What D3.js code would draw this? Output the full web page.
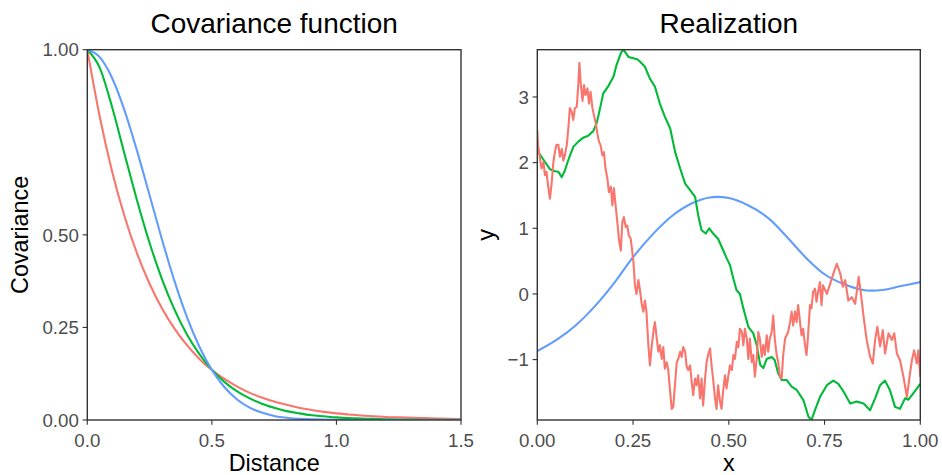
<!DOCTYPE html>
<html>
<head>
<meta charset="utf-8">
<script src="https://cdn.jsdelivr.net/npm/d3@7"></script>
<style>
  html, body { margin: 0; padding: 0; background: #ffffff; }
  svg { display: block; font-family: "Liberation Sans", Arial, Helvetica, sans-serif; }
</style>
</head>
<body>
<svg id="chart" width="942" height="475"></svg>
<script>
// ---- Covariance functions, sampled by distance ----
const distances = [0.00,0.05,0.10,0.15,0.20,0.25,0.30,0.35,0.40,0.45,0.50,0.55,0.60,0.65,0.70,0.75,
  0.80,0.85,0.90,0.95,1.00,1.05,1.10,1.15,1.20,1.25,1.30,1.35,1.40,1.45,1.50];
const covExponential = [1.000,0.819,0.670,0.549,0.449,0.368,0.301,0.247,0.202,0.165,0.135,0.111,0.091,
  0.074,0.061,0.050,0.041,0.033,0.027,0.022,0.018,0.015,0.012,0.010,0.008,0.007,0.006,0.005,0.004,0.003,0.002];
const covMatern = [1.000,0.951,0.844,0.717,0.592,0.478,0.380,0.298,0.231,0.178,0.136,0.103,0.078,
  0.059,0.044,0.033,0.024,0.018,0.013,0.010,0.007,0.005,0.004,0.003,0.002,0.0015,0.001,0.0008,0.0006,0.0004,0.0003];
const covGaussian = [1.000,0.980,0.923,0.835,0.726,0.607,0.487,0.375,0.278,0.198,0.135,0.089,0.056,
  0.034,0.020,0.011,0.006,0.003,0.002,0.001,0.0003,0,0,0,0,0,0,0,0,0,0];

// ---- Realizations ----
const realExpX = [0.000,0.002,0.007,0.011,0.016,0.020,0.024,0.029,0.033,0.037,0.042,0.046,0.050,0.055,0.059,
  0.064,0.068,0.072,0.077,0.081,0.085,0.090,0.094,0.098,0.103,0.107,0.110,0.113,0.118,0.122,0.126,0.131,0.135,
  0.139,0.144,0.148,0.152,0.157,0.161,0.165,0.170,0.174,0.178,0.183,0.187,0.192,0.196,0.200,0.205,0.209,0.213,
  0.218,0.222,0.226,0.231,0.235,0.239,0.244,0.248,0.251,0.255,0.259,0.264,0.268,0.273,0.277,0.281,0.285,0.290,
  0.294,0.299,0.303,0.307,0.312,0.316,0.320,0.325,0.329,0.333,0.338,0.342,0.346,0.351,0.355,0.360,0.364,0.368,
  0.373,0.377,0.381,0.386,0.390,0.394,0.399,0.403,0.407,0.412,0.416,0.420,0.425,0.429,0.433,0.438,0.442,0.446,
  0.451,0.455,0.459,0.464,0.468,0.472,0.477,0.481,0.485,0.490,0.494,0.499,0.503,0.508,0.512,0.516,0.521,0.525,
  0.529,0.534,0.538,0.542,0.547,0.551,0.555,0.560,0.564,0.568,0.573,0.577,0.581,0.586,0.590,0.594,0.599,0.603,
  0.607,0.612,0.616,0.620,0.625,0.629,0.633,0.638,0.642,0.647,0.651,0.655,0.660,0.664,0.668,0.673,0.677,0.681,
  0.686,0.690,0.694,0.699,0.703,0.707,0.712,0.716,0.720,0.725,0.729,0.733,0.738,0.742,0.746,0.756,0.765,0.773,
  0.782,0.791,0.798,0.804,0.812,0.821,0.830,0.839,0.845,0.852,0.860,0.869,0.876,0.882,0.888,0.895,0.902,0.908,
  0.917,0.926,0.932,0.939,0.947,0.956,0.965,0.972,0.978,0.984,0.991,0.995,1.000];
const realExpY = [2.50,2.27,2.06,1.91,2.01,1.81,1.86,1.61,1.45,1.66,2.01,2.16,2.27,2.27,2.09,
  2.21,2.03,2.11,2.27,2.52,2.83,2.77,2.65,2.83,2.85,3.18,3.52,3.23,2.94,3.18,3.03,3.13,2.90,
  3.08,2.83,2.72,2.62,2.44,2.32,2.27,2.11,2.16,1.91,1.76,1.55,1.63,1.35,1.61,1.32,1.09,0.84,
  0.66,1.09,1.17,1.02,1.04,0.89,0.84,0.64,0.49,0.13,0.00,0.21,0.06,-0.17,-0.27,-0.10,-0.27,-0.78,
  -1.09,-0.78,-0.58,-0.43,-0.68,-0.88,-0.78,-0.99,-0.81,-1.14,-1.04,-1.16,-1.44,-1.75,-1.72,-1.34,-1.04,-0.99,
  -0.88,-0.96,-0.81,-0.88,-1.11,-1.16,-1.09,-1.34,-1.54,-1.29,-1.39,-1.24,-1.59,-1.29,-1.70,-1.29,-1.04,-0.93,
  -0.83,-1.09,-1.29,-1.59,-1.75,-1.39,-1.64,-1.75,-1.49,-1.24,-1.44,-1.24,-1.09,-1.16,-0.93,-0.99,-0.73,-0.81,
  -0.53,-0.58,-0.78,-0.53,-0.68,-0.99,-0.68,-1.04,-0.93,-1.26,-0.99,-0.58,-0.68,-0.96,-0.78,-0.93,-0.63,-0.88,
  -0.68,-0.58,-0.33,-0.68,-0.93,-1.04,-1.24,-1.29,-0.93,-0.68,-0.63,-0.58,-0.43,-0.27,-0.48,-0.27,-0.43,-0.17,
  -0.43,-0.63,-0.53,-0.78,-0.93,-0.63,-0.17,-0.22,0.03,0.08,-0.12,0.03,0.18,-0.17,0.13,0.00,0.16,0.31,
  0.46,0.31,0.11,0.21,-0.10,-0.05,-0.15,0.26,0.00,-0.35,-0.70,-0.96,-1.06,-0.70,-0.50,-0.80,-0.55,-0.91,
  -0.60,-0.70,-0.60,-0.91,-1.01,-1.26,-1.57,-1.26,-1.01,-0.86,-1.06,-0.86,-1.26];

const realMatX = [0.000,0.004,0.020,0.033,0.046,0.055,0.064,0.072,0.081,0.094,0.107,0.120,0.133,0.146,0.155,
  0.164,0.172,0.185,0.199,0.207,0.219,0.225,0.238,0.251,0.262,0.268,0.281,0.294,0.307,0.320,0.333,0.347,0.360,
  0.373,0.386,0.399,0.412,0.420,0.429,0.440,0.449,0.459,0.472,0.485,0.494,0.503,0.512,0.520,0.529,0.538,0.551,
  0.564,0.573,0.582,0.590,0.599,0.612,0.620,0.629,0.638,0.651,0.664,0.677,0.695,0.708,0.716,0.725,0.738,0.756,
  0.773,0.786,0.800,0.817,0.834,0.852,0.869,0.882,0.895,0.908,0.921,0.934,0.947,0.960,0.969,0.982,1.000];
const realMatY = [2.19,2.15,2.01,1.90,1.87,1.86,1.78,1.88,2.04,2.24,2.32,2.38,2.41,2.48,2.60,
  2.83,3.05,3.16,3.31,3.49,3.68,3.72,3.61,3.59,3.57,3.54,3.46,3.28,3.16,2.90,2.70,2.52,2.16,
  1.91,1.68,1.58,1.48,1.20,0.97,0.92,1.00,0.92,0.84,0.67,0.55,0.44,0.23,0.06,0.00,-0.22,-0.50,
  -0.60,-0.78,-1.08,-1.13,-0.99,-0.96,-1.01,-1.21,-1.31,-1.31,-1.41,-1.46,-1.62,-1.87,-1.92,-1.77,-1.57,-1.39,
  -1.32,-1.37,-1.49,-1.67,-1.64,-1.67,-1.77,-1.59,-1.39,-1.32,-1.47,-1.72,-1.75,-1.59,-1.61,-1.51,-1.37];

const realGauX = [0.00,0.05,0.10,0.15,0.20,0.25,0.30,0.35,0.40,0.45,0.50,0.55,0.60,0.65,0.70,0.75,0.80,0.85,0.90,0.95,1.00];
const realGauY = [-0.87,-0.70,-0.48,-0.19,0.16,0.56,0.90,1.18,1.37,1.47,1.46,1.35,1.17,0.88,0.56,0.30,0.15,0.06,0.06,0.12,0.18];

const covTicksY = [0, 0.25, 0.50, 1.00];
const covTicksX = [0, 0.5, 1.0, 1.5];
const realTicksY = [-1, 0, 1, 2, 3];
const realTicksX = [0, 0.25, 0.50, 0.75, 1.00];

const colors = { exp: "#F8766D", mat: "#00BA38", gau: "#619CFF" };

// ---- Drawing ----
const svg = d3.select("#chart");
const plotTop = 49.7, plotBottom = 420;
const axisColor = "#333333", tickText = "#4D4D4D";

function panel(opts) {
  const g = svg.append("g");
  const { x, y } = opts;
  const [x0, x1] = x.range();

  // ticks and tick labels
  opts.ticksY.forEach(t => {
    g.append("line").attr("x1", x0 - 4.7).attr("x2", x0).attr("y1", y(t)).attr("y2", y(t))
      .attr("stroke", axisColor).attr("stroke-width", 1.1);
    g.append("text").attr("x", x0 - 8.5).attr("y", y(t)).attr("dy", "0.36em")
      .attr("text-anchor", "end").attr("font-size", 18.7).attr("fill", tickText)
      .text(opts.fmtY(t));
  });
  opts.ticksX.forEach(t => {
    g.append("line").attr("x1", x(t)).attr("x2", x(t)).attr("y1", plotBottom).attr("y2", plotBottom + 4.7)
      .attr("stroke", axisColor).attr("stroke-width", 1.1);
    g.append("text").attr("x", x(t)).attr("y", 446.5)
      .attr("text-anchor", "middle").attr("font-size", 18.7).attr("fill", tickText)
      .text(opts.fmtX(t));
  });

  // series
  const clipId = "clip-" + opts.id;
  svg.append("clipPath").attr("id", clipId).append("rect")
    .attr("x", x0).attr("y", plotTop).attr("width", x1 - x0).attr("height", plotBottom - plotTop);
  const lines = g.append("g").attr("clip-path", `url(#${clipId})`);
  opts.series.forEach(s => {
    const pts = s.xs.map((v, i) => [v, s.ys[i]]);
    lines.append("path")
      .attr("d", d3.line().x(p => x(p[0])).y(p => y(p[1])).curve(s.curve)(pts))
      .attr("fill", "none").attr("stroke", s.color).attr("stroke-width", s.width)
      .attr("stroke-linejoin", "round").attr("stroke-linecap", "butt");
  });

  // panel border
  g.append("rect").attr("x", x0).attr("y", plotTop).attr("width", x1 - x0).attr("height", plotBottom - plotTop)
    .attr("fill", "none").attr("stroke", axisColor).attr("stroke-width", 1.4);

  // titles
  const cx = (x0 + x1) / 2;
  g.append("text").attr("x", cx).attr("y", 33).attr("text-anchor", "middle")
    .attr("font-size", 28).attr("fill", "#000").text(opts.title);
  g.append("text").attr("x", cx).attr("y", 470.5).attr("text-anchor", "middle")
    .attr("font-size", 23.4).attr("fill", "#000").text(opts.xTitle);
  g.append("text").attr("transform", `translate(${opts.yTitleX},${(plotTop + plotBottom) / 2}) rotate(-90)`)
    .attr("text-anchor", "middle").attr("font-size", 23.4).attr("fill", "#000").text(opts.yTitle);
}

const xCov = d3.scaleLinear().domain([0, 1.5]).range([87.3, 461]);
const yCov = d3.scaleLinear().domain([0, 1]).range([plotBottom, plotTop]);

panel({
  id: "cov", x: xCov, y: yCov,
  ticksX: covTicksX, ticksY: covTicksY,
  fmtX: d3.format(".1f"), fmtY: d3.format(".2f"),
  title: "Covariance function", xTitle: "Distance", yTitle: "Covariance", yTitleX: 28,
  series: [
    { xs: distances, ys: covExponential, color: colors.exp, width: 2.1, curve: d3.curveMonotoneX },
    { xs: distances, ys: covMatern, color: colors.mat, width: 2.1, curve: d3.curveMonotoneX },
    { xs: distances, ys: covGaussian, color: colors.gau, width: 2.1, curve: d3.curveMonotoneX }
  ]
});

const allY = realExpY.concat(realMatY, realGauY);
const xReal = d3.scaleLinear().domain([0, 1]).range([537.3, 920.3]);
const yReal = d3.scaleLinear().domain(d3.extent(allY)).range([plotBottom, plotTop]);
const intFmt = d3.format("");

panel({
  id: "real", x: xReal, y: yReal,
  ticksX: realTicksX, ticksY: realTicksY,
  fmtX: d3.format(".2f"), fmtY: t => intFmt(t),
  title: "Realization", xTitle: "x", yTitle: "y", yTitleX: 493.5,
  series: [
    { xs: realGauX, ys: realGauY, color: colors.gau, width: 2.1, curve: d3.curveCatmullRom },
    { xs: realMatX, ys: realMatY, color: colors.mat, width: 2.1, curve: d3.curveLinear },
    { xs: realExpX, ys: realExpY, color: colors.exp, width: 2.1, curve: d3.curveLinear }
  ]
});
</script>
</body>
</html>
